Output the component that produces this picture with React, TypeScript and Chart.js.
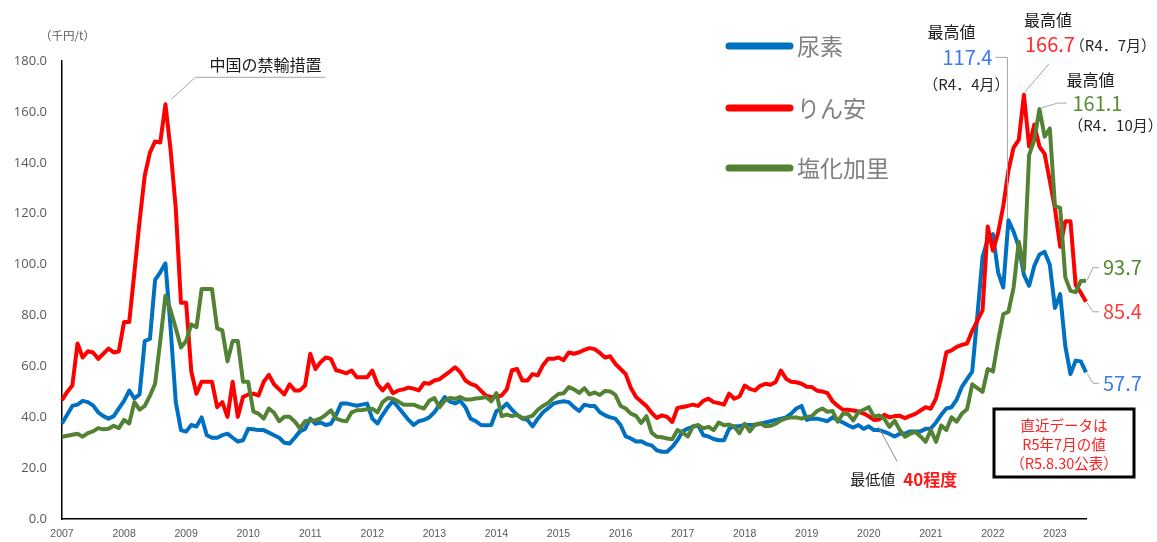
import React, { useEffect, useRef } from "react";
import { Chart, registerables } from "chart.js";

Chart.register(...registerables);

// ---- data (千円/t), monthly Jan 2007 – Jul 2023 ----
const years = ["2007","2008","2009","2010","2011","2012","2013","2014","2015","2016","2017","2018","2019","2020","2021","2022","2023"];
const monthsInLastYear = 7;

const seriesNames = ["尿素", "りん安", "塩化加里"];
const seriesColors = ["#0070C0", "#FF0000", "#548235"];

const urea = [
  37.6, 41, 44.5, 45, 46.5, 46, 44.7, 42, 40.5, 39.5, 40.5, 43.5,
  46.5, 50.5, 47.5, 49, 70, 70.8, 94, 97, 100.5, 75, 46, 35,
  34.4, 37, 36.4, 40, 33, 32, 32, 33, 33.6, 32, 30.5, 31,
  35.5, 35.3, 35, 35, 34, 33, 32, 30, 29.7, 32, 34.5, 35.5,
  39.5, 37.5, 38, 37, 37.5, 41, 45.5, 45.5, 45, 44.6, 45, 45.4,
  39.5, 37.6, 41, 44, 46.5, 44, 41.5, 39, 37, 38.5, 39, 40,
  42, 45, 48, 46.2, 45.5, 46.5, 44, 39.5, 38.5, 37, 36.9, 37,
  42.5, 43.5, 45.4, 43, 41, 39.5, 39, 36.5, 39.5, 42, 43.6, 45.4,
  46, 46.3, 46, 44, 42.5, 45, 44.5, 44.5, 42, 40.8, 40, 39.5,
  37, 32.5, 31.7, 30.5, 30.6, 29.5, 29, 27.1, 26.5, 26.5, 28.4, 31,
  34.5, 35.6, 36.3, 36.9, 33, 32.5, 31.5, 31, 31, 35.6, 36.5, 36.5,
  37, 37, 37, 37.5, 38, 38.5, 39, 39.5, 40, 41.5, 43.5, 44.5,
  39, 39.5, 39.5, 39, 38.5, 40, 39, 38, 36.9, 36, 37, 35.5,
  36.5, 35, 35, 34.3, 33.5, 32.5, 33.6, 33.6, 34.5, 34.5, 34.5, 35.5,
  35.6, 38, 41, 43.5, 44, 47, 52, 55, 58, 80, 103, 110,
  112, 97, 91, 117.4, 113, 107, 96, 91.7, 99.5, 104, 105, 100,
  83, 88.4, 68, 57, 62.3, 62, 57.7,
];

const dap = [
  46.7, 50, 52.5, 69, 63.5, 66, 65.5, 63, 65, 67, 65.5, 66,
  77.5, 77.5, 97, 117, 135, 144, 148.4, 148, 163, 145, 122, 85,
  85, 58, 49.3, 54, 54, 54, 44, 46, 40.2, 54, 40.2, 48,
  49, 49.3, 48.6, 54, 56.7, 53, 51, 49, 53, 50.6, 50.6, 52.5,
  65, 59, 61.7, 63.5, 63, 58.5, 58, 57.3, 58.4, 55.8, 55.8, 55.8,
  58.4, 53, 50.6, 53, 49.5, 50.6, 51, 51.7, 51.3, 50.6, 53.5, 53.2,
  54.5, 55, 56.5, 58, 59.7, 57.8, 54.5, 53.2, 52.5, 50.5, 48.5, 48,
  48, 48.6, 51, 58.5, 59, 54.5, 54.5, 57, 56.5, 60.5, 63, 63,
  63.5, 62.5, 65.5, 65, 65.6, 66.5, 67.2, 66.8, 65.3, 63.5, 64, 61,
  59, 57, 51.5, 48, 46.2, 44.5, 41.8, 39.8, 40.8, 40.2, 38.2, 43.7,
  44.1, 44.5, 45, 44.5, 46.5, 47.4, 46, 45.6, 45, 49.3, 47.3, 48.2,
  52.5, 51.2, 50.6, 52.4, 53.2, 52.8, 53.9, 58.4, 55.2, 54, 53.8, 53.2,
  52, 51.9, 50.5, 50.2, 49.5, 46.3, 44.5, 43, 43, 42.7, 42.3, 41.5,
  40.4, 39, 39.2, 41, 40, 40.5, 40.6, 39.7, 40.6, 41.4, 42.7, 44,
  43.4, 47.5, 55.5, 65.5, 66.3, 67.7, 68.5, 69, 74, 78, 82, 115,
  105.5, 112.5, 123, 137, 146, 149, 166.7, 146.4, 155, 146.4, 143.5, 133,
  122, 107, 117, 117, 92, 89, 85.4,
];

const potash = [
  32.4, 32.8, 33.2, 33.6, 32.4, 33.8, 34.5, 35.8, 35.3, 35.5, 36.7, 35.8,
  39, 37.6, 46, 43, 44.5, 48.5, 53.2, 70, 87.8, 82, 75, 67.5,
  70, 76.5, 75.4, 90.4, 90.4, 90.4, 75, 74.2, 62, 70, 70, 54,
  54, 42.3, 41.5, 39.5, 43.5, 41.8, 38.5, 40.2, 40.2, 38.4, 35.7, 38.5,
  38.8, 38.8, 39.6, 41, 42.8, 39.5, 38.8, 38.5, 42, 42.8, 42.9, 43.2,
  43.4, 42, 46, 47.6, 47.3, 46.3, 45, 45, 45, 44.1, 43.5, 46.5,
  47.6, 44, 46.5, 47.6, 47.3, 48, 47, 47, 47.4, 47.6, 48, 46.3,
  49.5, 40.5, 41.1, 40.5, 41, 39.8, 40, 40.7, 43, 44.5, 45.7, 47.6,
  49.2, 49.5, 51.9, 51, 49.6, 51.5, 49, 49.8, 48.8, 50.4, 50.2, 48.8,
  44.5, 43.5, 41.5, 40.6, 37.8, 40.5, 34, 32.4, 32.2, 31.7, 31.4, 35,
  34, 32.5, 36.5, 36.9, 35.7, 36.3, 35, 38, 36.9, 37.2, 36.3, 33.8,
  37.5, 34.5, 37.2, 37.6, 36.5, 36.7, 37.5, 38.8, 39.6, 40, 40, 39.5,
  40.2, 40.5, 42.5, 43.5, 42.2, 42.5, 38.3, 41.5, 41.3, 38.8, 42.1, 43,
  44, 40.3, 40.8, 39.4, 36.3, 38.7, 35, 32.4, 33.6, 34.3, 32.5, 30.4,
  35, 30.4, 36.8, 35, 40, 38.3, 41.5, 43.2, 53, 51.5, 50, 59,
  58, 70, 80.5, 81.5, 91, 109, 98, 143, 149, 161.1, 150.3, 153.5,
  123, 122.3, 95, 89.7, 89.2, 93.6, 93.7,
];

const yTickMin = 0;
const yTickMax = 180;
const yTickStep = 20;
const minIndexLabel = 158; // around 2020 (最低値 40程度)

// month labels built from years
const monthLabels: string[] = [];
years.forEach((y, yi) => {
  const n = yi === years.length - 1 ? monthsInLastYear : 12;
  for (let m = 1; m <= n; m++) monthLabels.push(`${y}/${m}`);
});

const CJK = '"Noto Sans CJK JP", "Noto Sans", sans-serif';

const annotationPlugin = {
  id: "annos",
  afterDraw(chart: any) {
    const ctx = chart.ctx as CanvasRenderingContext2D;
    const xs = chart.scales.x;
    const ys = chart.scales.y;
    const P = (i: number, v: number) => [xs.getPixelForValue(i), ys.getPixelForValue(v)];

    const text = (s: string, x: number, y: number, size: number, color: string, align: CanvasTextAlign = "center", weight = "normal") => {
      ctx.save();
      ctx.font = `${weight} ${size}px ${CJK}`;
      ctx.fillStyle = color;
      ctx.textAlign = align;
      ctx.textBaseline = "middle";
      ctx.fillText(s, x, y);
      ctx.restore();
    };
    const poly = (pts: number[][], color = "#a6a6a6", w = 1) => {
      ctx.save();
      ctx.strokeStyle = color;
      ctx.lineWidth = w;
      ctx.beginPath();
      pts.forEach((p, k) => (k === 0 ? ctx.moveTo(p[0], p[1]) : ctx.lineTo(p[0], p[1])));
      ctx.stroke();
      ctx.restore();
    };

    // y-axis unit
    text("（千円/t）", chart.chartArea.left - 22, chart.chartArea.top - 25, 11.5, "#595959", "left");

    // legend
    const legendY = [46, 108, 168];
    seriesNames.forEach((name, k) => {
      ctx.save();
      ctx.strokeStyle = seriesColors[k];
      ctx.lineWidth = 7;
      ctx.lineCap = "round";
      ctx.beginPath();
      ctx.moveTo(729, legendY[k]);
      ctx.lineTo(790, legendY[k]);
      ctx.stroke();
      ctx.restore();
      text(name, 797, legendY[k], 23, "#808080", "left");
    });

    // 中国の禁輸措置 (peak of りん安 in 2008)
    const early = dap.slice(0, 36);
    const iChina = early.indexOf(Math.max(...early));
    {
      const [px, py] = P(iChina, dap[iChina]);
      poly([[px + 6, py - 5], [px + 30, py - 27], [px + 160, py - 27]]);
      text("中国の禁輸措置", px + 100, py - 39, 16, "#1a1a1a");
    }

    // 最高値 urea
    {
      const i = urea.indexOf(Math.max(...urea));
      const [px, py] = P(i, urea[i]);
      poly([[px - 1, py - 2], [px - 1, py - 163], [px - 13, py - 163]]);
      text("最高値", px - 57, py - 188, 16, "#1a1a1a");
      text(urea[i].toFixed(1), px - 16, py - 163, 20, "#3b7df0", "right");
      text("（R4．4月）", px - 42, py - 136, 15, "#262626");
    }
    // 最高値 DAP
    {
      const i = dap.indexOf(Math.max(...dap));
      const [px, py] = P(i, dap[i]);
      poly([[px + 1, py - 3], [px + 25, py - 31]]);
      text("最高値", px + 24, py - 75, 16, "#1a1a1a");
      text(dap[i].toFixed(1), px + 26, py - 50, 20, "#ff2a2a");
      text("（R4．7月）", px + 89, py - 50, 15, "#262626");
    }
    // 最高値 potash
    {
      const i = potash.indexOf(Math.max(...potash));
      const [px, py] = P(i, potash[i]);
      poly([[px + 1, py - 1], [px + 18, py - 6], [px + 27, py - 6]]);
      text("最高値", px + 51, py - 29, 16, "#1a1a1a");
      text(potash[i].toFixed(1), px + 33, py - 6, 20, "#5b8c32", "left");
      text("（R4．10月）", px + 76, py + 16, 15, "#262626");
    }

    // latest values
    const last = urea.length - 1;
    {
      const [px, py] = P(last, potash[last]);
      poly([[px + 1, py], [px + 7, py - 13], [px + 13, py - 13]]);
      text(potash[last].toFixed(1), px + 17, py - 13, 20, "#4e8a2e", "left");
    }
    {
      const [px, py] = P(last, dap[last]);
      poly([[px + 1, py + 1], [px + 7, py + 10], [px + 13, py + 10]]);
      text(dap[last].toFixed(1), px + 17, py + 10, 20, "#ff3b3b", "left");
    }
    {
      const [px, py] = P(last, urea[last]);
      poly([[px + 1, py + 1], [px + 7, py + 11], [px + 13, py + 11]]);
      text(urea[last].toFixed(1), px + 17, py + 11, 20, "#3b7df0", "left");
    }

    // 最低値
    {
      const [px, py] = P(minIndexLabel, dap[minIndexLabel]);
      poly([[px - 1, py + 7], [px + 18, py + 42]], "#8c8c8c");
      text("最低値", px + 16, py + 60, 15, "#1a1a1a", "right");
      text("40程度", px + 24, py + 60, 17, "#ff1a1a", "left", "bold");
    }

    // note box
    ctx.save();
    ctx.fillStyle = "#ffffff";
    ctx.fillRect(994, 409, 140, 68);
    ctx.strokeStyle = "#000000";
    ctx.lineWidth = 3;
    ctx.strokeRect(994, 409, 140, 68);
    ctx.restore();
    text("直近データは", 1064, 425, 14.5, "#ff2020");
    text("R5年7月の値", 1064, 444, 14.5, "#ff2020");
    text("（R5.8.30公表）", 1064, 463, 14.5, "#ff2020");
  },
};

export default function App() {
  const ref = useRef<HTMLCanvasElement | null>(null);
  useEffect(() => {
    if (!ref.current) return;
    const mk = (label: string, data: number[], color: string, order: number) => ({
      label,
      data,
      borderColor: color,
      backgroundColor: color,
      borderWidth: 4,
      pointRadius: 0,
      tension: 0,
      borderJoinStyle: "round" as const,
      order,
    });
    const chart = new Chart(ref.current, {
      type: "line",
      data: {
        labels: monthLabels,
        datasets: [
          mk(seriesNames[0], urea, seriesColors[0], 2),
          mk(seriesNames[1], dap, seriesColors[1], 1),
          mk(seriesNames[2], potash, seriesColors[2], 0),
        ],
      },
      options: {
        responsive: false,
        animation: false,
        layout: { padding: { left: 0, right: 71, top: 61, bottom: 0 } },
        plugins: { legend: { display: false }, tooltip: { enabled: false } },
        scales: {
          x: {
            type: "category",
            offset: false,
            grid: { display: false, drawTicks: false },
            border: { display: true, color: "#000000", width: 1.5 },
            ticks: {
              autoSkip: false,
              maxRotation: 0,
              minRotation: 0,
              padding: 9,
              color: "#595959",
              font: { family: '"Liberation Sans", Arial, sans-serif', size: 10.5 },
              callback: (_v: any, idx: number) => (idx % 12 === 0 ? years[idx / 12] : ""),
            },
            afterFit: (s: any) => {
              s.height = 21;
            },
          },
          y: {
            min: yTickMin,
            max: yTickMax,
            grid: { display: false, drawTicks: false },
            border: { display: true, color: "#000000", width: 1.5 },
            ticks: {
              stepSize: yTickStep,
              padding: 15,
              color: "#595959",
              font: { family: '"Open Sans", "Liberation Sans", sans-serif', size: 13 },
              callback: (v: any) => Number(v).toFixed(1),
            },
            afterFit: (s: any) => {
              s.width = 62;
            },
          },
        },
      },
      plugins: [annotationPlugin],
    });
    return () => chart.destroy();
  }, []);
  return (
    <div style={{ position: "absolute", left: 0, top: 0, width: 1157, height: 542, background: "#fff" }}>
      <canvas ref={ref} width={1157} height={542} style={{ display: "block" }} />
    </div>
  );
}
